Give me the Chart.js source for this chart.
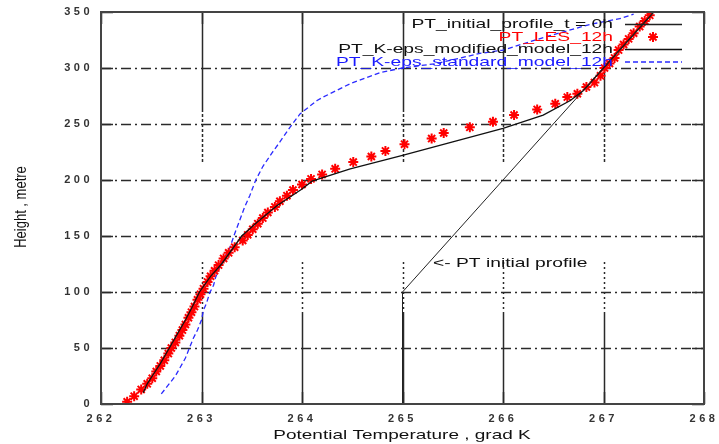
<!DOCTYPE html>
<html>
<head>
<meta charset="utf-8">
<title>Potential temperature profiles</title>
<script src="https://cdn.jsdelivr.net/npm/chart.js@4.4.0/dist/chart.umd.min.js"></script>
<style>
  html, body { margin: 0; padding: 0; background: #fff; }
  #wrap { width: 719px; height: 444px; }
</style>
</head>
<body>
<div id="wrap"><canvas id="chart" width="719" height="444"></canvas></div>
<script>
// axis ticks
const xTicks = [262, 263, 264, 265, 266, 267, 268];
const yTicks = [0, 50, 100, 150, 200, 250, 300, 350];

// initial profile, t = 0h
const initT = [265, 265, 267.5];
const initH = [0, 100, 350];

// LES after 12h
const lesH = [2, 7, 13, 18, 23, 29, 34, 39, 45, 50, 55, 61, 66, 71, 77, 82, 87, 93, 98, 103,
  109, 114, 119, 124, 130, 135, 140, 146, 151, 156, 161, 166, 171, 176, 181, 186, 191, 196, 201, 205,
  210, 216, 221, 226, 232, 237, 242, 247, 252, 258, 263, 268, 274, 277, 283, 287, 293, 300, 304, 309,
  316, 321, 326, 331, 337, 342, 347];
const lesT = [262.26, 262.33, 262.40, 262.46, 262.51, 262.55, 262.59, 262.63, 262.67, 262.70,
  262.74, 262.78, 262.81, 262.84, 262.87, 262.90, 262.93, 262.96, 262.99, 263.02,
  263.06, 263.09, 263.13, 263.17, 263.22, 263.27, 263.33, 263.41, 263.46, 263.51,
  263.56, 263.61, 263.66, 263.73, 263.78, 263.85, 263.91, 264.00, 264.09, 264.20,
  264.33, 264.51, 264.69, 264.83, 265.02, 265.29, 265.41, 265.67, 265.90, 266.11,
  266.34, 266.52, 266.64, 266.74, 266.83, 266.91, 266.97, 267.01, 267.06, 267.11,
  267.15, 267.20, 267.25, 267.30, 267.36, 267.41, 267.46];

// K-eps modified model after 12h
const modT = [262.42, 262.46, 262.51, 262.59, 262.68, 262.75, 262.84, 262.91, 262.98, 263.09,
  263.20, 263.40, 263.55, 263.75, 264.00, 264.10, 264.48, 265.00, 265.50, 266.00,
  266.40, 266.67, 266.80, 267.00, 267.50];
const modH = [10, 18, 25, 36, 50, 61, 75, 87, 100, 114,
  125, 150, 162, 177, 192, 199, 210, 222, 234, 246,
  258, 271, 280, 300, 350];

// K-eps standard model after 12h
const stdT = [262.60, 262.67, 262.74, 262.79, 262.84, 262.88, 262.92, 262.96, 263.00, 263.02,
  263.05, 263.08, 263.12, 263.14, 263.18, 263.23, 263.28, 263.33, 263.38, 263.43,
  263.48, 263.54, 263.61, 263.70, 263.78, 263.88, 263.98, 264.15, 264.21, 264.48,
  264.78, 265.00, 265.34, 265.77, 266.00, 266.43, 266.67, 266.87, 267.16, 267.30];
const stdH = [9, 17, 25, 33, 41, 50, 59, 66, 75, 84,
  90, 99, 106, 113, 122, 131, 139, 152, 164, 176,
  186, 200, 212, 224, 234, 247, 259, 271, 274, 286,
  296, 300, 304, 313, 316, 328, 334, 339, 344, 348];

const FONT = '"Liberation Sans", Arial, sans-serif';
const toXY = (xs, ys) => xs.map((x, i) => ({ x: x, y: ys[i] }));

// text in the reference is stretched sideways, so draw it scaled
function wideText(ctx, text, x, y, align, sx) {
    ctx.save();
    ctx.translate(x, y);
    ctx.scale(sx, 1);
    ctx.textAlign = align;
    ctx.fillText(text, 0, 0);
    ctx.restore();
}

function drawStar(ctx, x, y, r) {
    ctx.beginPath();
    for (let k = 0; k < 4; k++) {
        const a = k * Math.PI / 4;
        ctx.moveTo(x - r * Math.cos(a), y - r * Math.sin(a));
        ctx.lineTo(x + r * Math.cos(a), y + r * Math.sin(a));
    }
    ctx.stroke();
}

const vDash = [100, 2, 3, 2, 3, 2, 3, 2, 3, 2, 3, 2, 3, 2, 3, 2, 3, 2, 3, 2, 3];
const hDash = [10, 4, 2, 4];

// wider tick digits, then gnuplot style grid under the data
const gridAndTicks = {
    id: 'gridAndTicks',
    beforeDraw(chart) { chart.ctx.letterSpacing = '3.5px'; },
    beforeDatasetsDraw(chart) {
        const ctx = chart.ctx;
        const a = chart.chartArea;
        const xs = chart.scales.x, ys = chart.scales.y;
        ctx.letterSpacing = '0px';
        ctx.save();
        ctx.strokeStyle = '#2a2a2a';
        ctx.lineWidth = 1.5;
        ctx.setLineDash(vDash);
        xTicks.slice(1, -1).forEach(v => {
            const p = Math.round(xs.getPixelForValue(v)) + 0.5;
            ctx.beginPath();
            ctx.moveTo(p, a.top); ctx.lineTo(p, a.bottom);
            ctx.stroke();
        });
        ctx.lineWidth = 1.4;
        ctx.setLineDash(hDash);
        yTicks.slice(1, -1).forEach(v => {
            const p = Math.round(ys.getPixelForValue(v)) + 0.5;
            ctx.beginPath();
            ctx.moveTo(a.left, p); ctx.lineTo(a.right, p);
            ctx.stroke();
        });
        ctx.restore();
    }
};

// frame, inner ticks, legend, titles and note
const decorations = {
    id: 'decorations',
    afterDraw(chart) {
        const ctx = chart.ctx;
        const a = chart.chartArea;
        const xs = chart.scales.x, ys = chart.scales.y;
        ctx.save();
        ctx.letterSpacing = '0px';

        // inner ticks
        ctx.strokeStyle = '#2a2a2a';
        ctx.lineWidth = 1.5;
        ctx.beginPath();
        yTicks.forEach(v => {
            const p = Math.round(ys.getPixelForValue(v)) + 0.5;
            ctx.moveTo(a.left, p); ctx.lineTo(a.left + 12, p);
            ctx.moveTo(a.right - 12, p); ctx.lineTo(a.right, p);
        });
        xTicks.forEach(v => {
            const p = Math.round(xs.getPixelForValue(v)) + 0.5;
            ctx.moveTo(p, a.bottom); ctx.lineTo(p, a.bottom - 12);
            ctx.moveTo(p, a.top); ctx.lineTo(p, a.top + 12);
        });
        ctx.stroke();

        // frame
        ctx.strokeStyle = '#444';
        ctx.lineWidth = 2;
        ctx.strokeRect(a.left, a.top, a.right - a.left, a.bottom - a.top);

        // legend, gnuplot style: text right aligned, sample to the right
        ctx.font = '13px ' + FONT;
        ctx.textBaseline = 'middle';
        chart.data.datasets.forEach((ds, i) => {
            const y = 24.5 + i * 12.5;
            ctx.fillStyle = ds.textColor;
            wideText(ctx, ds.label, 613, y, 'right', 1.48);
            ctx.strokeStyle = ds.borderColor;
            if (ds.showLine === false) {
                ctx.lineWidth = 2;
                ctx.setLineDash([]);
                drawStar(ctx, 653, y, 5);
            } else {
                ctx.lineWidth = 1.3;
                ctx.setLineDash(ds.borderDash || []);
                ctx.beginPath();
                ctx.moveTo(625, y); ctx.lineTo(682, y);
                ctx.stroke();
            }
        });
        ctx.setLineDash([]);

        // note next to the initial profile
        ctx.fillStyle = '#111';
        wideText(ctx, '<- PT initial profile', 433, 263, 'left', 1.48);

        // axis titles
        wideText(ctx, 'Potential Temperature , grad K', 402, 435, 'center', 1.46);
        ctx.save();
        ctx.translate(22, 207);
        ctx.rotate(-Math.PI / 2);
        ctx.scale(1, 1.2);
        ctx.textAlign = 'center';
        ctx.fillText('Height , metre', 0, 0);
        ctx.restore();

        ctx.restore();
    }
};

const tickFont = { family: FONT, size: 11, weight: 'bold' };

new Chart(document.getElementById('chart'), {
    type: 'line',
    data: {
        datasets: [
            {
                label: 'PT_initial_profile_t = 0h',
                data: toXY(initT, initH),
                borderColor: '#222', textColor: '#111',
                borderWidth: 1, pointRadius: 0, order: 0
            },
            {
                label: 'PT_LES_12h',
                data: toXY(lesT, lesH),
                showLine: false,
                borderColor: '#ff0000', backgroundColor: '#ff0000', textColor: '#ff0000',
                pointStyle: 'star', pointRadius: 5, pointBorderWidth: 2, order: 2
            },
            {
                label: 'PT_K-eps_modified_model_12h',
                data: toXY(modT, modH),
                borderColor: '#111', textColor: '#111',
                borderWidth: 1.3, pointRadius: 0, order: 1
            },
            {
                label: 'PT_K-eps_standard_model_12h',
                data: toXY(stdT, stdH),
                borderColor: '#2a2aff', textColor: '#1a1aff',
                borderWidth: 1.3, borderDash: [5, 3], pointRadius: 0, order: 3
            }
        ]
    },
    options: {
        responsive: false,
        animation: false,
        devicePixelRatio: 1,
        layout: { padding: { top: 12, right: 15, left: 0, bottom: 0 } },
        plugins: {
            legend: { display: false },
            tooltip: { enabled: false }
        },
        scales: {
            x: {
                type: 'linear', min: 262, max: 268,
                afterBuildTicks: s => { s.ticks = xTicks.map(v => ({ value: v })); },
                afterFit: s => { s.height = 40; s.paddingLeft = 0; s.paddingRight = 0; },
                ticks: { font: tickFont, color: '#333', padding: 8, maxRotation: 0, autoSkip: false },
                grid: { display: false, drawTicks: false },
                border: { display: false }
            },
            y: {
                type: 'linear', min: 0, max: 350,
                afterBuildTicks: s => { s.ticks = yTicks.map(v => ({ value: v })); },
                afterFit: s => { s.width = 101; s.paddingTop = 0; s.paddingBottom = 0; },
                ticks: { font: tickFont, color: '#333', padding: 8, autoSkip: false },
                grid: { display: false, drawTicks: false },
                border: { display: false }
            }
        }
    },
    plugins: [gridAndTicks, decorations]
});
</script>
</body>
</html>
